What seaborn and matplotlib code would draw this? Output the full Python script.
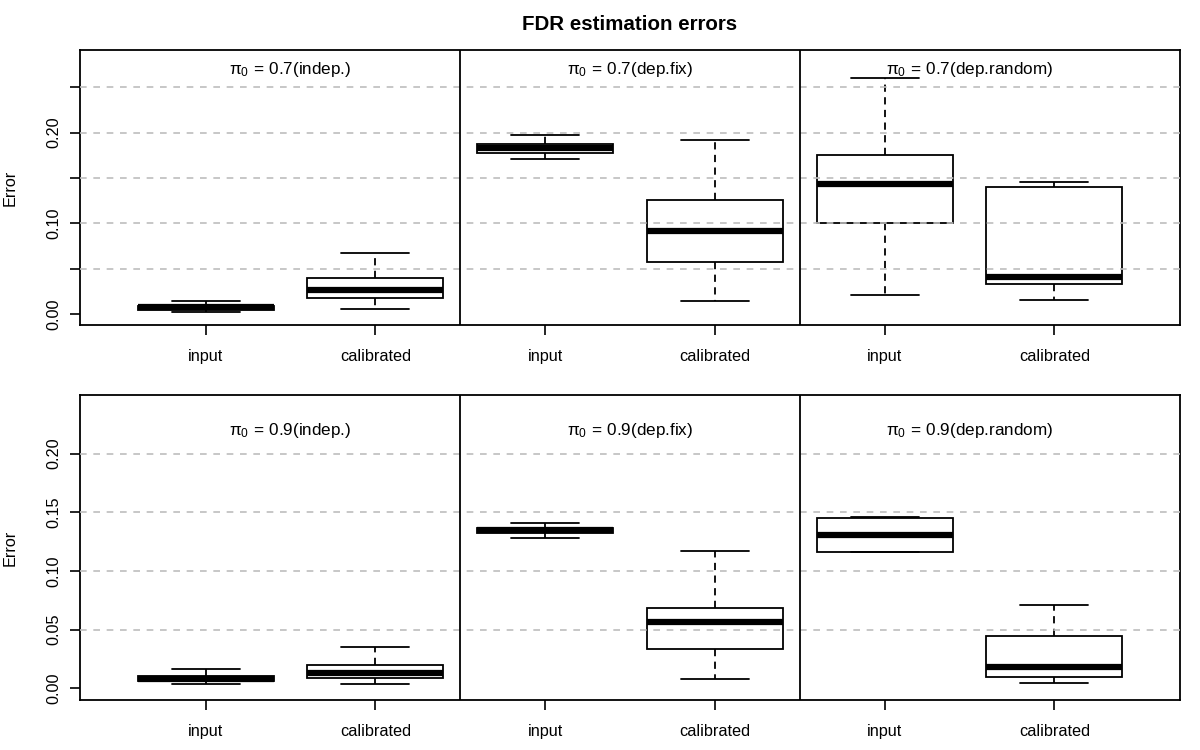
import numpy as np
import pandas as pd
import matplotlib
matplotlib.use("Agg")
import matplotlib.pyplot as plt
import seaborn as sns

# ---------------- data (five-number summaries) ----------------
methods = ["input", "calibrated"]
settings = ["indep.", "dep.fix", "dep.random"]
pi0_values = ["0.7", "0.9"]

# order: indep input, indep calibrated, dep.fix input, dep.fix calibrated, dep.random input, dep.random calibrated
low_07 = [0.0030, 0.0055, 0.1710, 0.0146, 0.0209, 0.0161]
q1_07 = [0.0050, 0.0183, 0.1780, 0.0576, 0.1005, 0.0334]
med_07 = [0.0075, 0.0264, 0.1835, 0.0917, 0.1431, 0.0414]
q3_07 = [0.0095, 0.0403, 0.1876, 0.1255, 0.1758, 0.1398]
high_07 = [0.0146, 0.0679, 0.1978, 0.1916, 0.2606, 0.1460]

low_09 = [0.0039, 0.0039, 0.1280, 0.0079, 0.1158, 0.0045]
q1_09 = [0.0060, 0.0085, 0.1320, 0.0337, 0.1158, 0.0099]
med_09 = [0.0082, 0.0133, 0.1346, 0.0562, 0.1306, 0.0184]
q3_09 = [0.0105, 0.0198, 0.1365, 0.0687, 0.1453, 0.0448]
high_09 = [0.0162, 0.0352, 0.1410, 0.1170, 0.1462, 0.0712]

y_ticks_07 = [0.00, 0.05, 0.10, 0.15, 0.20, 0.25]
y_labels_07 = ["0.00", "", "0.10", "", "0.20", ""]
y_ticks_09 = [0.00, 0.05, 0.10, 0.15, 0.20]
y_labels_09 = ["0.00", "0.05", "0.10", "0.15", "0.20"]
grid_07 = [0.05, 0.10, 0.15, 0.20, 0.25]
grid_09 = [0.05, 0.10, 0.15, 0.20]

title = "FDR estimation errors"
y_label = "Error"

# ---------------- build long-form tables ----------------
group_order = [f"{s}|{m}" for s in settings for m in methods]
tick_labels = [m for s in settings for m in methods]


def build(lows, q1s, meds, q3s, highs):
    rows = []
    for g, lo, a, md, b, hi in zip(group_order, lows, q1s, meds, q3s, highs):
        for v in (lo, a, md, b, hi):
            rows.append({"group": g, "error": v})
    return pd.DataFrame(rows)


df_07 = build(low_07, q1_07, med_07, q3_07, high_07)
df_09 = build(low_09, q1_09, med_09, q3_09, high_09)

# ---------------- style ----------------
sns.set_style("ticks")
plt.rcParams["font.family"] = ["Liberation Sans", "DejaVu Sans"]
plt.rcParams["mathtext.fontset"] = "custom"
plt.rcParams["mathtext.rm"] = "Liberation Sans"
plt.rcParams["mathtext.it"] = "Liberation Sans:italic"
plt.rcParams["mathtext.sf"] = "Liberation Sans"
for key in ("text.color", "axes.labelcolor", "xtick.color", "ytick.color", "axes.edgecolor"):
    plt.rcParams[key] = "black"

FS = 11.7

fig = plt.figure(figsize=(12, 7.5), dpi=100)
W, H = 1200, 750
ax_top = fig.add_axes([80 / W, 1 - 325 / H, 1100 / W, 275 / H])
ax_bot = fig.add_axes([80 / W, 1 - 700 / H, 1100 / W, 305 / H])

panels = [
    (ax_top, df_07, "0.7", (-0.0118, 0.291), y_ticks_07, y_labels_07, grid_07, 0.269),
    (ax_bot, df_09, "0.9", (-0.0100, 0.250), y_ticks_09, y_labels_09, grid_09, 0.220),
]

for ax, df, pi0, ylim, yt, yl, grid, ytext in panels:
    sns.boxplot(
        data=df, x="group", y="error", order=group_order, ax=ax,
        whis=(0, 100), width=0.8, color="white", saturation=1,
        linecolor="black", linewidth=1.3, showfliers=False,
        whiskerprops=dict(linestyle=(0, (4, 3)), linewidth=1.3),
        capprops=dict(linewidth=1.3),
        medianprops=dict(linewidth=4.5, solid_capstyle="butt", color="black"),
        capwidths=0.4,
    )
    for v in grid:
        ax.axhline(v, color="#BEBEBE", linestyle=(0, (4, 4)), linewidth=1.2, zorder=5)
    for xs in (1.5, 3.5):
        ax.axvline(xs, color="black", linewidth=1.3, zorder=6)
    for k, s in enumerate(settings):
        ax.text(0.5 + 2 * k, ytext, rf"$\mathrm{{\pi}}_0\,=\,{pi0}$({s})", ha="center",
                va="center", fontsize=12.3, zorder=7)
    ax.set_xlim(-0.74, 5.74)
    ax.set_ylim(*ylim)
    ax.set_xticks(range(len(tick_labels)))
    ax.set_xticklabels(tick_labels, fontsize=FS)
    ax.set_yticks(yt)
    ax.set_yticklabels(yl, rotation=90, va="center", fontsize=FS)
    ax.tick_params(axis="x", length=7.5, width=1.2, pad=9.5)
    ax.tick_params(axis="y", length=7.5, width=1.2, pad=6)
    ax.set_xlabel("")
    ax.set_ylabel(y_label, fontsize=FS)
    ax.yaxis.set_label_coords((18 - 80) / 1100, 0.5)
    for sp in ax.spines.values():
        sp.set_visible(True)
        sp.set_color("black")
        sp.set_linewidth(1.3)

fig.text(630 / W, 1 - 25 / H, title, ha="center", va="center",
         fontsize=14.8, fontweight="bold")

fig.savefig("out.png", dpi=100, facecolor="white")
